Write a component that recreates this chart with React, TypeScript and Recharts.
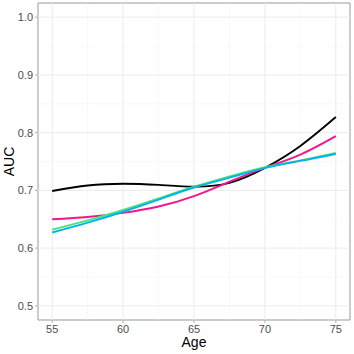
import React from 'react';
import { LineChart, Line, XAxis, YAxis, ReferenceLine, ReferenceArea } from 'recharts';

const ages = [55, 57.5, 60, 62.5, 65, 67.5, 70, 72.5, 75];
const blackAuc = [0.699, 0.7085, 0.7115, 0.7095, 0.7065, 0.713, 0.739, 0.777, 0.827];
const pinkAuc = [0.650, 0.654, 0.661, 0.672, 0.690, 0.715, 0.739, 0.762, 0.794];
const greenAuc = [0.632, 0.648, 0.666, 0.686, 0.7065, 0.724, 0.740, 0.752, 0.765];
const cyanAuc = [0.627, 0.644, 0.663, 0.684, 0.705, 0.722, 0.739, 0.751, 0.763];

const xTicks = [55, 60, 65, 70, 75];
const xMinor = [57.5, 62.5, 67.5, 72.5];
const yTicks = [0.5, 0.6, 0.7, 0.8, 0.9, 1.0];
const yMinor = [0.55, 0.65, 0.75, 0.85, 0.95];

const xDomain: [number, number] = [54, 76];
const yDomain: [number, number] = [0.4755, 1.0245];

const data = ages.map((age, i) => ({
  age,
  black: blackAuc[i],
  pink: pinkAuc[i],
  green: greenAuc[i],
  cyan: cyanAuc[i],
}));

const font = '"Liberation Sans", Arial, sans-serif';
const tickStyle = { fill: '#4d4d4d', fontSize: 11, fontFamily: font };

export default function App() {
  return (
    <div style={{ position: 'absolute', left: 0, top: 0, width: 354, height: 354, background: '#fff' }}>
      <LineChart width={354} height={354} data={data} margin={{ top: 3, right: 4, left: 0, bottom: 0 }}>
        <XAxis
          dataKey="age"
          type="number"
          domain={xDomain}
          ticks={xTicks}
          axisLine={false}
          tickLine={{ stroke: '#b3b3b3' }}
          tickSize={3}
          tickMargin={2}
          tick={tickStyle}
          height={34}
          label={() => (
            <text x={194} y={347} textAnchor="middle" fontSize={14} fontFamily={font} fill="#000">Age</text>
          )}
        />
        <YAxis
          type="number"
          domain={yDomain}
          ticks={yTicks}
          allowDataOverflow
          axisLine={false}
          tickLine={{ stroke: '#b3b3b3' }}
          tickSize={3}
          tickMargin={2}
          tick={tickStyle}
          tickFormatter={(v: number) => v.toFixed(1)}
          width={38}
          label={() => (
            <text x={14} y={161.5} transform="rotate(-90 14 161.5)" textAnchor="middle" fontSize={14} fontFamily={font} fill="#000">AUC</text>
          )}
        />
        {xMinor.map((v) => (
          <ReferenceLine key={'xm' + v} x={v} stroke="#f2f2f2" strokeWidth={0.5} />
        ))}
        {yMinor.map((v) => (
          <ReferenceLine key={'ym' + v} y={v} stroke="#f2f2f2" strokeWidth={0.5} />
        ))}
        {xTicks.map((v) => (
          <ReferenceLine key={'x' + v} x={v} stroke="#ebebeb" strokeWidth={1} />
        ))}
        {yTicks.map((v) => (
          <ReferenceLine key={'y' + v} y={v} stroke="#ebebeb" strokeWidth={1} />
        ))}
        <Line type="natural" dataKey="black" stroke="#000000" strokeWidth={1.9} dot={false} isAnimationActive={false} />
        <Line type="natural" dataKey="pink" stroke="#f0168c" strokeWidth={1.9} dot={false} isAnimationActive={false} />
        <Line type="natural" dataKey="green" stroke="#4ee07a" strokeWidth={1.9} dot={false} isAnimationActive={false} />
        <Line type="natural" dataKey="cyan" stroke="#00b4e8" strokeWidth={1.9} dot={false} isAnimationActive={false} />
        <ReferenceArea
          x1={xDomain[0]}
          x2={xDomain[1]}
          y1={yDomain[0]}
          y2={yDomain[1]}
          fill="none"
          stroke="#999999"
          strokeWidth={1}
          ifOverflow="visible"
        />
      </LineChart>
    </div>
  );
}
